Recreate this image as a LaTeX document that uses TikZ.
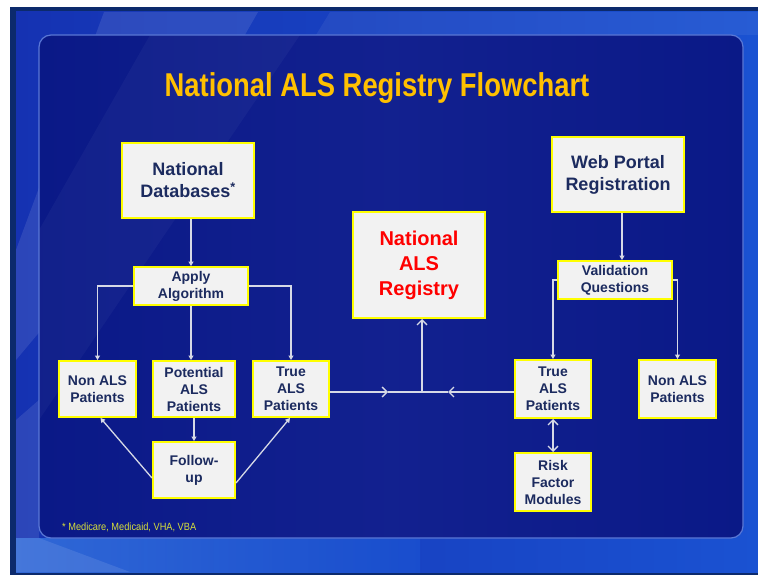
\documentclass[tikz,border=0pt]{standalone}
\usepackage{fontspec}
\setmainfont{Liberation Sans}
\usetikzlibrary{arrows.meta,calc}

\definecolor{slideframe}{HTML}{0C2A6C}
\definecolor{bgleft}{HTML}{1532B2}
\definecolor{bgright}{HTML}{1A52D2}
\definecolor{bglight}{HTML}{3C7FE6}
\definecolor{panelfill}{HTML}{0B1A8C}
\definecolor{paneledge}{HTML}{5A78D6}
\definecolor{boxfill}{HTML}{F2F2F2}
\definecolor{boxedge}{HTML}{FFFF00}
\definecolor{boxtext}{HTML}{1C2B5F}
\definecolor{titlegold}{HTML}{FFC000}
\definecolor{regred}{HTML}{FF0000}
\definecolor{notecol}{HTML}{D8E03A}
\definecolor{linkcol}{HTML}{D6D9E6}

\tikzset{
  flowbox/.style={draw=boxedge, line width=2pt, fill=boxfill, text=boxtext,
    align=center, inner sep=0pt,
    font=\fontsize{14pt}{17pt}\selectfont\bfseries},
  bigbox/.style={flowbox, font=\fontsize{18pt}{22pt}\selectfont\bfseries},
  linkline/.style={draw=linkcol, line width=1.3pt},
  tipsolid/.style={linkline, -{Triangle[length=4.5pt,width=5pt]}},
  tipopen/.style={linkline, -{Straight Barb[length=5pt,width=10pt]}},
  tipboth/.style={linkline, {Straight Barb[length=5pt,width=10pt]}-{Straight Barb[length=5pt,width=10pt]}},
}

\begin{document}
\begin{tikzpicture}[x=1pt,y=-1pt]
\useasboundingbox (0,0) rectangle (758,575);
% page and slide background
\fill[white] (0,0) rectangle (758,575);
\fill[slideframe] (10,7) rectangle (758,575);
\shade[left color=bgleft, right color=bgright] (16,12) rectangle (758,572);
% lighter diagonal streaks of the backdrop
\fill[white, opacity=0.10] (104,12) -- (258,12) -- (150,200) -- (16,360) -- (16,250) -- cycle;
\fill[white, opacity=0.06] (330,12) -- (758,12) -- (758,35) -- (316,35) -- cycle;
\shade[left color=bglight, right color=bgright, opacity=0.7] (16,538) rectangle (420,572);
\fill[white, opacity=0.10] (16,572) -- (16,420) -- (39,400) -- (39,538) -- (130,572) -- cycle;
% content panel
\fill[panelfill, rounded corners=12pt] (39,35) rectangle (743,538);
\begin{scope}
  \clip[rounded corners=12pt] (39,35) rectangle (743,538);
  \fill[white, opacity=0.035] (150,35) -- (300,35) -- (39,420) -- (39,230) -- cycle;
  \shade[left color=black, right color=black, middle color=white, opacity=0.03] (39,35) rectangle (743,538);
\end{scope}
\draw[paneledge, line width=1.2pt, rounded corners=12pt] (39,35) rectangle (743,538);

% title
\node[anchor=base, text=titlegold, inner sep=0pt,
      font=\fontsize{33pt}{36pt}\selectfont\bfseries] (title) at (377,97)
  {\scalebox{0.83}[1]{National ALS Registry Flowchart}};

% boxes
\node[bigbox, minimum width=132pt, minimum height=75pt] (ndb) at (188,180.5)
  {National\\Databases\textsuperscript{*}};
\node[bigbox, minimum width=132pt, minimum height=75pt] (web) at (618,174.5)
  {Web Portal\\Registration};
\node[flowbox, minimum width=114pt, minimum height=38pt] (apply) at (191,286)
  {Apply\\Algorithm};
\node[flowbox, minimum width=114pt, minimum height=38pt] (valid) at (615,280)
  {Validation\\Questions};
\node[flowbox, minimum width=77pt, minimum height=56pt] (nonL) at (97.5,389)
  {Non ALS\\Patients};
\node[flowbox, minimum width=82pt, minimum height=56pt] (pot) at (194,389)
  {Potential\\ALS\\Patients};
\node[flowbox, minimum width=76pt, minimum height=56pt] (trueL) at (291,389)
  {True\\ALS\\Patients};
\node[flowbox, minimum width=82pt, minimum height=56pt] (follow) at (194,470)
  {Follow-\\up};
\node[flowbox, text=regred, minimum width=132pt, minimum height=106pt,
      font=\fontsize{20pt}{25pt}\selectfont\bfseries] (reg) at (419,265)
  {National\\ALS\\Registry};
\node[flowbox, minimum width=76pt, minimum height=58pt] (trueR) at (553,389)
  {True\\ALS\\Patients};
\node[flowbox, minimum width=77pt, minimum height=58pt] (nonR) at (677.5,389)
  {Non ALS\\Patients};
\node[flowbox, minimum width=76pt, minimum height=58pt] (risk) at (553,482)
  {Risk\\Factor\\Modules};

% footnote
\node[anchor=base west, text=notecol, inner sep=0pt,
      font=\fontsize{10.5pt}{12pt}\selectfont] (note) at (62,530)
  {\scalebox{0.88}[1]{* Medicare, Medicaid, VHA, VBA}};

% left branch
\draw[tipsolid] (ndb.south -| apply.north) -- (apply.north);
\draw[tipsolid] (apply.west) -| (nonL.north);
\draw[tipsolid] (apply.south) -- (apply.south |- pot.north);
\draw[tipsolid] (apply.east) -| (trueL.north);
\draw[tipsolid] (pot.south) -- (follow.north);
\draw[tipsolid] ([yshift=-8pt]follow.west) -- ([xshift=3pt]nonL.south);
\draw[tipsolid] ([yshift=-13pt]follow.east) -- ([xshift=-1pt]trueL.south);

% junction feeding the registry
\coordinate (join) at (422,392);
\coordinate (inL) at (388,392);
\coordinate (inR) at (448,392);
\draw[tipopen] ([yshift=-3pt]trueL.east) -- (inL);
\draw[linkline] (inL) -- (join);
\draw[tipopen] ([yshift=-3pt]trueR.west) -- (inR);
\draw[linkline] (inR) -- (join);
\draw[tipopen] (join) -- (join |- reg.south);

% right branch
\draw[tipsolid] ([xshift=4pt]web.south) -- ([xshift=4pt]web.south |- valid.north);
\draw[tipsolid] (valid.west) -| (trueR.north);
\draw[tipsolid] (valid.east) -| (nonR.north);
\draw[tipboth] (trueR.south) -- (risk.north);
\end{tikzpicture}
\end{document}
